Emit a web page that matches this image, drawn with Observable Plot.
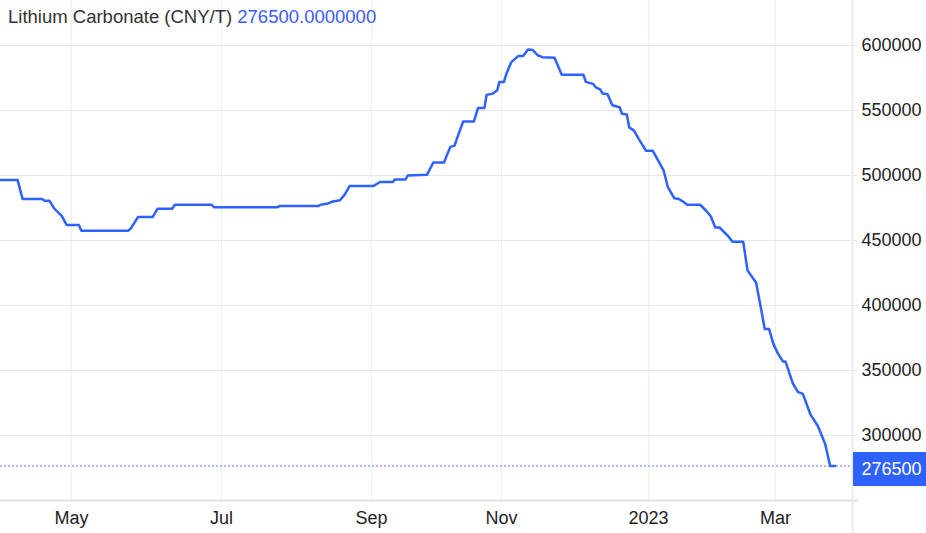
<!DOCTYPE html>
<html>
<head>
<meta charset="utf-8">
<script src="https://cdn.jsdelivr.net/npm/d3@7"></script>
<script src="https://cdn.jsdelivr.net/npm/@observablehq/plot@0.6"></script>
<style>
  html, body { margin: 0; padding: 0; background: #fff; overflow: hidden; }
  #wrap { position: relative; width: 926px; height: 533px; font-family: "Liberation Sans", Arial, sans-serif; }
  #chart svg { display: block; }
  #title { position: absolute; left: 8px; top: 8px; font-size: 18.5px; line-height: 1; color: #333; white-space: nowrap; }
  #title span { color: #3d5cf8; }
</style>
</head>
<body>
<div id="wrap">
  <div id="chart"></div>
  <div id="title">Lithium Carbonate (CNY/T) <span>276500.0000000</span></div>
</div>
<script>
// ---- data ----
const dates = [
  "2022-04-02","2022-04-09","2022-04-11","2022-04-19","2022-04-20","2022-04-22","2022-04-24","2022-04-27","2022-04-29",
  "2022-05-04","2022-05-05","2022-05-24","2022-05-25","2022-05-28","2022-06-03","2022-06-05","2022-06-11","2022-06-12",
  "2022-06-27","2022-06-28","2022-07-24","2022-07-25","2022-08-10","2022-08-11","2022-08-14","2022-08-16","2022-08-19",
  "2022-08-21","2022-08-23","2022-09-02","2022-09-05","2022-09-11","2022-09-12","2022-09-17","2022-09-18","2022-09-27",
  "2022-09-30","2022-10-05","2022-10-08","2022-10-10","2022-10-11","2022-10-14","2022-10-19","2022-10-21","2022-10-24",
  "2022-10-25","2022-10-28","2022-10-30","2022-10-31","2022-11-02","2022-11-03","2022-11-05","2022-11-08","2022-11-10",
  "2022-11-12","2022-11-14","2022-11-16","2022-11-18","2022-11-23","2022-11-25","2022-11-26","2022-12-05","2022-12-06",
  "2022-12-09","2022-12-10","2022-12-12","2022-12-13","2022-12-15","2022-12-17","2022-12-20","2022-12-21","2022-12-23",
  "2022-12-24","2022-12-26","2022-12-28","2022-12-30","2022-12-31","2023-01-03","2023-01-05","2023-01-08","2023-01-10",
  "2023-01-13","2023-01-15","2023-01-17","2023-01-19","2023-01-25","2023-01-28","2023-01-30","2023-02-01","2023-02-03",
  "2023-02-06","2023-02-07","2023-02-09","2023-02-14","2023-02-16","2023-02-20","2023-02-22","2023-02-24","2023-02-26",
  "2023-02-28","2023-03-02","2023-03-04","2023-03-05","2023-03-08","2023-03-10","2023-03-12","2023-03-15","2023-03-18",
  "2023-03-21","2023-03-23","2023-03-25"
];
const prices = [
  496500,496500,482000,482000,480500,480500,474500,469000,462000,
  462000,457500,457500,459000,468000,468000,474500,474500,477500,
  477500,475500,475500,476500,476500,477500,478500,480000,481000,
  485500,492000,492000,495000,495000,497000,497000,500000,500500,
  510000,510000,522000,523000,528000,541500,541500,552000,552000,
  562000,563000,565500,572000,572000,578000,587000,592000,592000,
  597000,596500,592500,591000,590500,582000,577500,577500,572000,
  570500,568000,566000,563000,562500,554000,552500,547500,547000,
  537000,534500,528000,522000,519000,519000,513000,504000,491000,
  482500,482000,480000,477500,477500,472500,468500,460000,460000,
  455000,453500,449000,449000,427000,417500,400000,382000,382000,
  370500,363000,357000,357000,340000,333500,332000,316500,307500,
  293500,276500,276500
];
const xTickDates = ["2022-05-01","2022-07-01","2022-09-01","2022-11-01","2023-01-01","2023-03-01"];
const xTickLabels = ["May","Jul","Sep","Nov","2023","Mar"];
const yTicks = [300000,350000,400000,450000,500000,550000,600000];
const lastPrice = 276500;
// trading-calendar anchors of the time axis (holidays compress Oct and Jan/Feb)
const xAnchors = ["2022-04-02","2022-05-01","2022-07-01","2022-09-01","2022-11-01","2023-01-01","2023-03-01","2023-04-01"];

// ---- chart ----
const blue = "#2e62ff";
const data = dates.map((d, i) => ({date: new Date(d), price: prices[i]}));
const tickDates = xTickDates.map(d => new Date(d));
const xEnd = new Date(xAnchors[xAnchors.length - 1]);

const chart = Plot.plot({
  width: 926,
  height: 533,
  marginLeft: 0,
  marginRight: 74,
  marginTop: 0,
  marginBottom: 33,
  style: {fontFamily: '"Liberation Sans", Arial, sans-serif', fontSize: "18px", color: "#222", background: "#fff", overflow: "visible"},
  x: {
    type: "utc",
    domain: xAnchors.map(d => new Date(d)),
    range: [0, 71, 221, 371, 501, 648, 775, 852],
    ticks: tickDates,
    tickFormat: d => xTickLabels[tickDates.findIndex(t => +t === +d)],
    tickSize: 0,
    tickPadding: 11,
    label: null
  },
  y: {
    domain: [250000, 634615],
    axis: "right",
    ticks: yTicks,
    tickFormat: d => String(d),
    tickSize: 0,
    tickPadding: 9,
    label: null
  },
  marks: [
    Plot.ruleX(tickDates, {stroke: "#edf1f7", strokeWidth: 1}),
    Plot.ruleY(yTicks, {stroke: "#e6e6e6", strokeWidth: 1, insetRight: -5}),
    Plot.ruleY([250000], {stroke: "#e2e2e2", strokeWidth: 2, insetRight: -6}),
    Plot.ruleX([xEnd], {stroke: "#ebebeb", strokeWidth: 2, insetBottom: -33}),
    Plot.ruleY([lastPrice], {stroke: blue, strokeWidth: 1, strokeDasharray: "2,2", strokeOpacity: 0.8}),
    Plot.line(data, {x: "date", y: "price", stroke: blue, strokeWidth: 2.5, strokeLinejoin: "round"}),
    Plot.ruleY([lastPrice], {x1: () => xEnd, x2: () => xEnd, insetLeft: 1, insetRight: -74, stroke: blue, strokeWidth: 34, dy: 3}),
    Plot.text([lastPrice], {x: () => xEnd, y: d => d, text: d => String(d), fill: "white", textAnchor: "start", dx: 9, dy: 3, fontSize: 18})
  ]
});
document.getElementById("chart").appendChild(chart);
</script>
</body>
</html>
